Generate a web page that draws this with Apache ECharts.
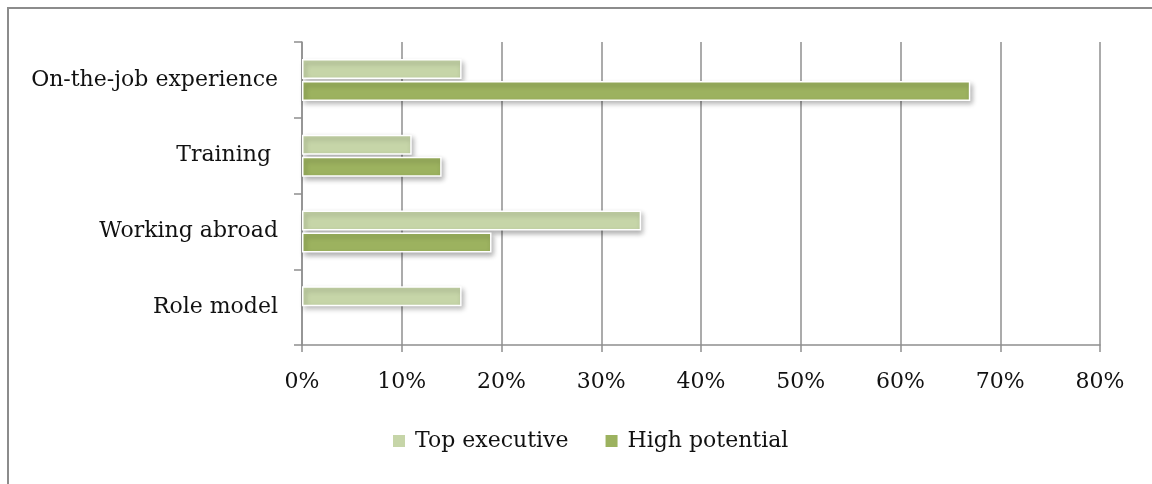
<!DOCTYPE html>
<html>
<head>
<meta charset="utf-8">
<script src="https://cdn.jsdelivr.net/npm/echarts@6/dist/echarts.min.js"></script>
<style>
html,body{margin:0;padding:0;background:#fff;}
#chart{width:1152px;height:484px;}
</style>
</head>
<body>
<div id="chart"></div>
<script>
const categories = ['On-the-job experience', 'Training ', 'Working abroad', 'Role model'];
const topExecutive = [16, 11, 34, 16];
const highPotential = [67, 14, 19, null];
const seriesNames = ['Top executive', 'High potential'];
const xMin = 0, xMax = 80, xInterval = 10;

const FONT = 'DejaVu Serif';
const GRAY = '#8f8f8f';
const chart = echarts.init(document.getElementById('chart'));
const barStyle = (color) => ({
  color: color,
  borderColor: '#ffffff',
  borderWidth: 1.5,
  shadowColor: 'rgba(0,0,0,0.3)',
  shadowBlur: 5,
  shadowOffsetX: 2,
  shadowOffsetY: 3
});
chart.setOption({
  animation: false,
  backgroundColor: '#ffffff',
  graphic: [{
    type: 'rect',
    shape: {x: 8, y: 8, width: 1300, height: 700},
    style: {fill: 'none', stroke: '#8c8c8c', lineWidth: 2},
    silent: true
  }],
  grid: {left: 302, right: 52, top: 42, bottom: 139, containLabel: false},
  legend: {
    left: 388, top: 425,
    itemWidth: 12, itemHeight: 12, itemGap: 37,
    icon: 'rect',
    itemStyle: {borderWidth: 0, shadowBlur: 0, shadowOffsetX: 0, shadowOffsetY: 0},
    textStyle: {fontFamily: FONT, fontSize: 22, color: '#111', padding: [0, 0, 0, 5]},
    data: seriesNames
  },
  xAxis: {
    type: 'value', min: xMin, max: xMax, interval: xInterval,
    axisLine: {show: true, lineStyle: {color: GRAY, width: 1.5}},
    axisTick: {show: true, length: 7, lineStyle: {color: GRAY, width: 1.5}},
    splitLine: {show: true, lineStyle: {color: GRAY, width: 1.5}},
    axisLabel: {formatter: '{value}%', fontFamily: FONT, fontSize: 22, color: '#111', margin: 26}
  },
  yAxis: {
    type: 'category', data: categories, inverse: true,
    axisLine: {show: true, lineStyle: {color: GRAY, width: 1.5}},
    axisTick: {show: true, length: 8, lineStyle: {color: GRAY, width: 1.5}},
    axisLabel: {fontFamily: FONT, fontSize: 22, color: '#111', margin: 24}
  },
  series: [
    {name: seriesNames[0], type: 'bar', data: topExecutive, barWidth: 20, barGap: '10%', itemStyle: barStyle('#c6d5a8')},
    {name: seriesNames[1], type: 'bar', data: highPotential, barWidth: 20, barGap: '10%', itemStyle: barStyle('#9cb25f')}
  ]
});
</script>
</body>
</html>
